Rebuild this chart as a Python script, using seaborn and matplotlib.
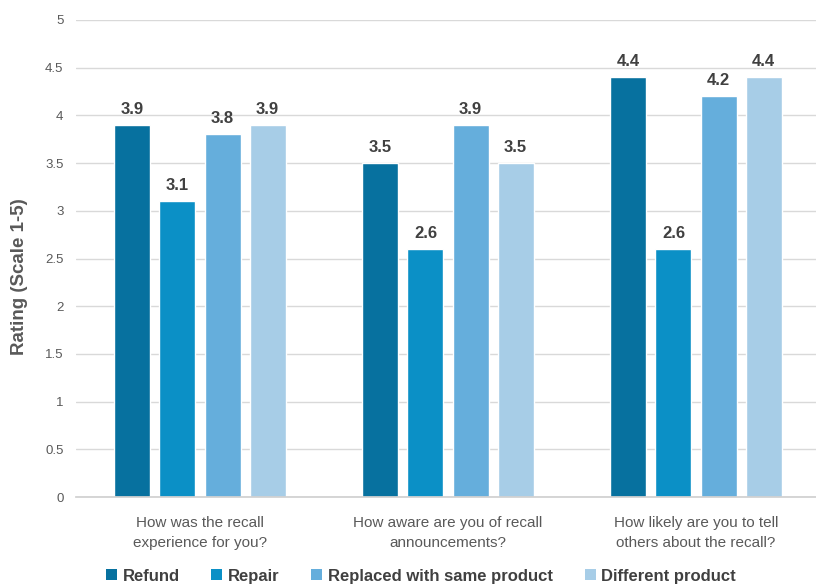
import matplotlib
matplotlib.use("Agg")
import matplotlib.pyplot as plt
import seaborn as sns
import pandas as pd
from matplotlib.patches import Patch

questions = [
    "How was the recall\nexperience for you?",
    "How aware are you of recall\nannouncements?",
    "How likely are you to tell\nothers about the recall?",
]
outcomes = ["Refund", "Repair", "Replaced with same product", "Different product"]
refund = [3.9, 3.5, 4.4]
repair = [3.1, 2.6, 2.6]
replaced = [3.8, 3.9, 4.2]
different = [3.9, 3.5, 4.4]
colors = ["#07719f", "#0b90c6", "#65aedc", "#a7cde7"]
y_ticks = [0, 0.5, 1, 1.5, 2, 2.5, 3, 3.5, 4, 4.5, 5]

rows = []
for name, vals in zip(outcomes, [refund, repair, replaced, different]):
    for q, v in zip(questions, vals):
        rows.append({"Question": q, "Outcome": name, "Rating": v})
df = pd.DataFrame(rows)

sns.set_theme(style="white")
plt.rcParams["font.family"] = ["Liberation Sans", "DejaVu Sans"]

fig = plt.figure(figsize=(8.16, 5.84), dpi=100)
ax = fig.add_axes([76 / 816, 87 / 584, 744 / 816, 477 / 584])

sns.barplot(
    data=df, x="Question", y="Rating", hue="Outcome",
    order=questions, hue_order=outcomes, palette=colors,
    width=0.726, gap=0.2, saturation=1, errorbar=None,
    legend=False, ax=ax,
)

for container in ax.containers:
    ax.bar_label(container, fmt="%.1f", padding=6, fontsize=12,
                 fontweight="bold", color="#404040")

ax.set_ylim(0, 5)
ax.set_xlim(-0.5, 2.5)
ax.set_yticks(y_ticks)
ax.set_yticklabels([f"{t:g}" for t in y_ticks])
ax.yaxis.grid(True, color="#d9d9d9", linewidth=1)
ax.set_axisbelow(True)
for side in ["left", "right", "top"]:
    ax.spines[side].set_visible(False)
ax.spines["bottom"].set_color("#d0d0d0")
ax.tick_params(axis="y", length=0, pad=9, labelsize=9.5, labelcolor="#595959")
ax.tick_params(axis="x", length=0, pad=14, labelsize=11, labelcolor="#595959")
for lbl in ax.get_xticklabels():
    lbl.set_linespacing(1.55)
ax.set_xlabel("")
ax.set_ylabel("Rating (Scale 1-5)", fontsize=13.5, fontweight="bold",
              color="#595959")
ax.yaxis.set_label_coords(-0.065, 0.461)

handles = [Patch(facecolor=c, edgecolor="none") for c in colors]
fig.legend(handles, outcomes, loc="lower center", ncol=4,
           bbox_to_anchor=(0.516, -0.025), frameon=False,
           prop={"weight": "bold", "size": 12},
           labelcolor="#404040", handlelength=0.65, handleheight=0.65,
           handletextpad=0.35, columnspacing=1.9)

fig.savefig("out.png", dpi=100)
